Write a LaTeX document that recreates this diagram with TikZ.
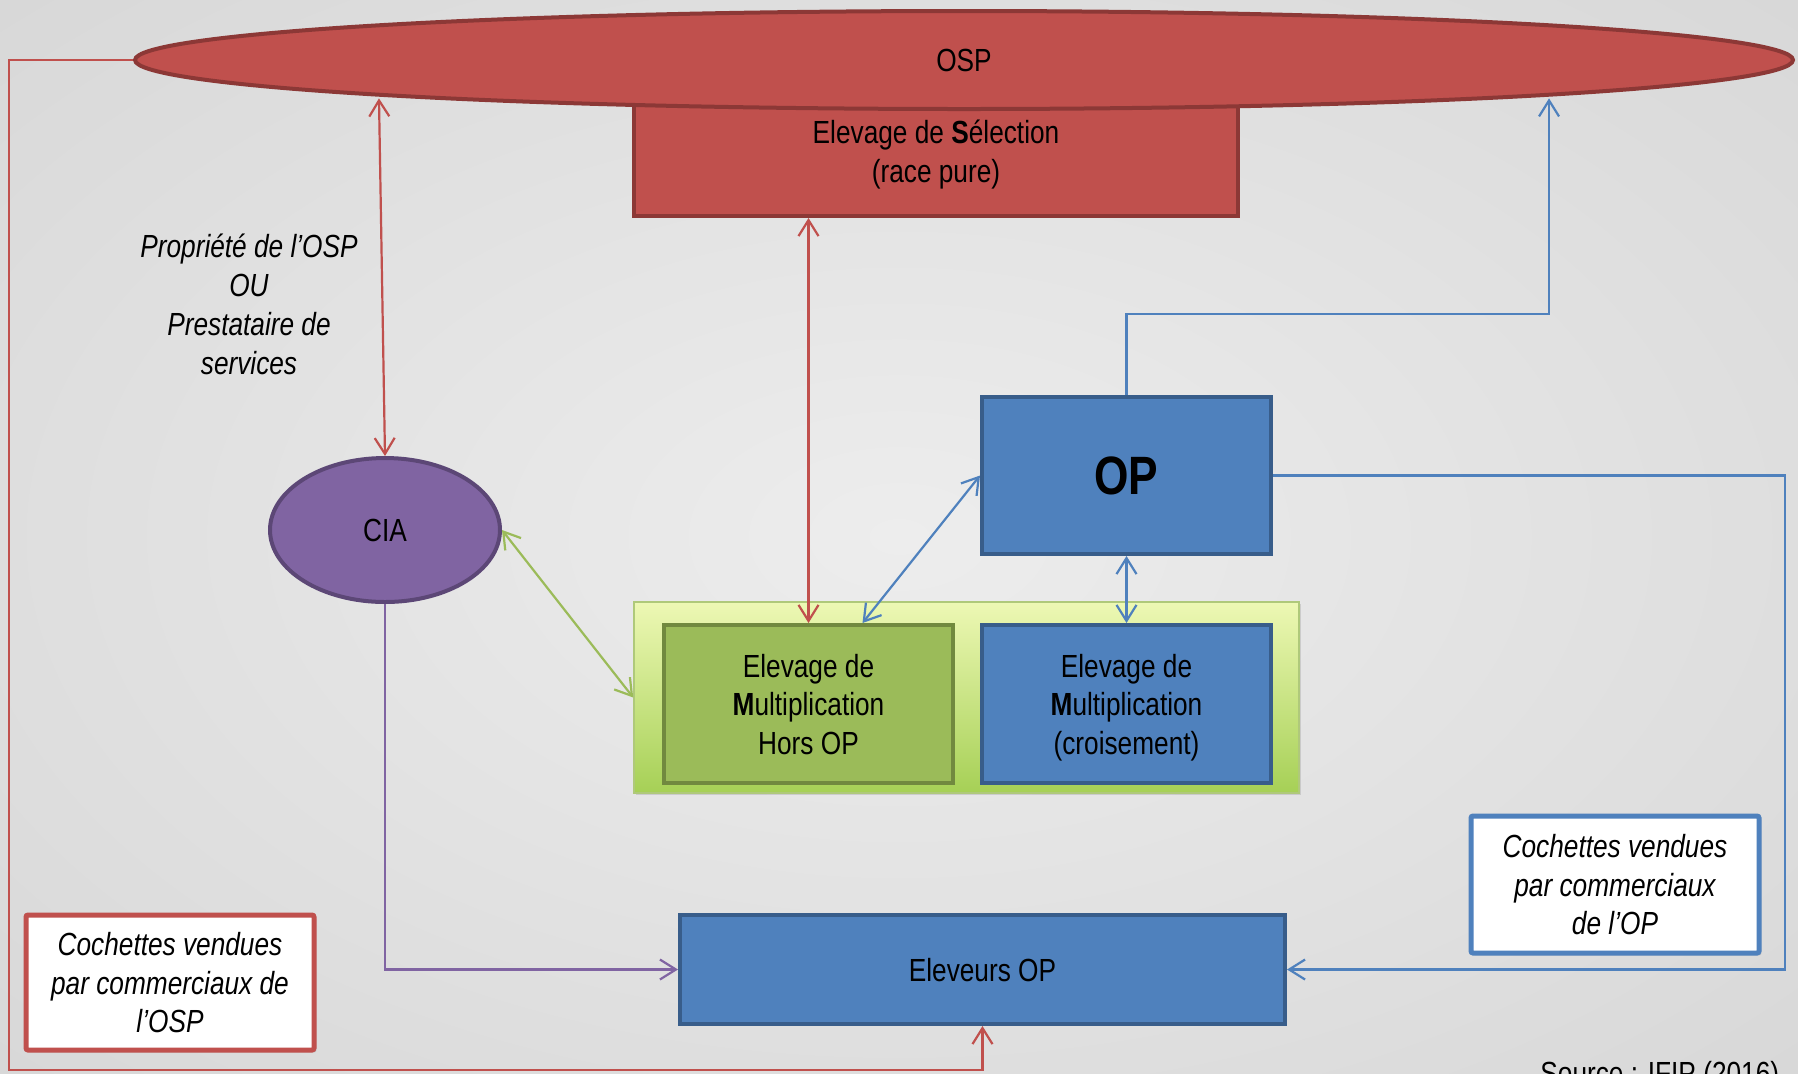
\documentclass[tikz,border=0pt]{standalone}
\usepackage{fontspec}
\setmainfont{Liberation Sans}[FakeStretch=0.82]
\usetikzlibrary{shapes.geometric,arrows.meta,shadows}
\definecolor{ospred}{HTML}{C0504D}
\definecolor{ospedge}{HTML}{8C3836}
\definecolor{opblue}{HTML}{4F81BD}
\definecolor{opedge}{HTML}{385D8A}
\definecolor{mulgreen}{HTML}{9BBB59}
\definecolor{muledge}{HTML}{71893F}
\definecolor{ciapurple}{HTML}{8064A2}
\definecolor{ciaedge}{HTML}{5C4776}
\definecolor{bglight}{HTML}{EDEDED}
\definecolor{bgdark}{HTML}{C2C2C2}
\definecolor{bandtop}{HTML}{EDF8B4}
\definecolor{bandbot}{HTML}{A6D056}
\pgfdeclareradialshading{bgglow}{\pgfpoint{0bp}{0bp}}{color(0bp)=(bglight); color(72bp)=(bgdark)}
\begin{document}
\begin{tikzpicture}[x=0.5pt,y=-0.5pt,
	every node/.style={inner sep=0pt, align=center, text depth=0pt, font=\fontsize{16}{19.3}\selectfont},
	>={Straight Barb[length=8pt,width=10pt]},
	boxshadow/.style={drop shadow={shadow xshift=1.2pt, shadow yshift=-1.2pt, opacity=0.25}},
	redbox/.style={rectangle, fill=ospred, draw=ospedge, line width=2pt},
	bluebox/.style={rectangle, fill=opblue, draw=opedge, line width=2pt, boxshadow},
	greenbox/.style={rectangle, fill=mulgreen, draw=muledge, line width=2pt},
	notebox/.style={rectangle, fill=white, draw=#1, line width=2.5pt, rounded corners=1pt, boxshadow, font=\fontsize{16}{19.3}\selectfont\itshape},
	link/.style={draw=#1, line width=1.1pt}]
	\shade[shading=bgglow] (0,0) rectangle (1798,1073);
	\useasboundingbox (0,0) rectangle (1798,1073);
	\node[redbox, minimum width=302pt, minimum height=65pt] (sel) at (936,151) {Elevage de \textbf{S}élection\\(race pure)};
	\node[ellipse, fill=ospred, draw=ospedge, line width=2pt, minimum width=829pt, minimum height=49pt] (osp) at (964,60) {OSP};
	\node[ellipse, fill=ciapurple, draw=ciaedge, line width=2pt, minimum width=115pt, minimum height=72pt] (cia) at (385,530) {CIA};
	\node[bluebox, minimum width=144.5pt, minimum height=78.5pt, font=\fontsize{27}{30}\selectfont\bfseries] (op) at (1126.5,475.5) {OP};
	\node[rectangle, top color=bandtop, bottom color=bandbot, draw=mulgreen!80, line width=0.8pt, boxshadow, minimum width=332.5pt, minimum height=95.5pt] (band) at (966.5,697.5) {};
	\node[greenbox, minimum width=144.5pt, minimum height=79pt] (hors) at (808.5,704) {Elevage de\\\textbf{M}ultiplication\\Hors OP};
	\node[bluebox, minimum width=144.5pt, minimum height=79pt] (crois) at (1126.5,704) {Elevage de\\\textbf{M}ultiplication\\(croisement)};
	\node[bluebox, minimum width=302.5pt, minimum height=54.5pt] (eleveurs) at (982.5,969.5) {Eleveurs OP};
	\node[notebox=ospred, minimum width=144pt, minimum height=67.5pt] (ventosp) at (170,982.5) {Cochettes vendues\\par commerciaux de\\l’OSP};
	\node[notebox=opblue, minimum width=144pt, minimum height=68.5pt] (ventop) at (1615,884.5) {Cochettes vendues\\par commerciaux\\de l’OP};
	\node[font=\fontsize{16}{19.5}\selectfont\itshape] (statut) at (249,304) {Propriété de l’OSP\\OU\\Prestataire de\\services};
	\node[anchor=base west] (source) at (1540,1084) {Source : IFIP (2016)};
	\coordinate (ospfoot) at (9,1070);
	\draw[link=ospred, <->] ([xshift=-18.5pt]osp.184) -- (cia.north);
	\draw[link=ospred, <->] (hors.north |- sel.south) -- (hors.north);
	\draw[link=opblue, <->] (op.west) -- ([xshift=27pt]hors.north);
	\draw[link=opblue, <->] (op.south) -- (crois.north);
	\draw[link=mulgreen, <->] (cia.east) -- (band.west);
	\draw[link=ciapurple, ->] (cia.south) |- (eleveurs.west);
	\draw[link=opblue, ->] (op.north) -- ++(0,-81) -| ([xshift=18.5pt]osp.-4);
	\draw[link=opblue, ->] (op.east) -- ++(512,0) |- (eleveurs.east);
	\draw[link=ospred, ->] (osp.west) -| (ospfoot) -| (eleveurs.south);
\end{tikzpicture}
\end{document}
